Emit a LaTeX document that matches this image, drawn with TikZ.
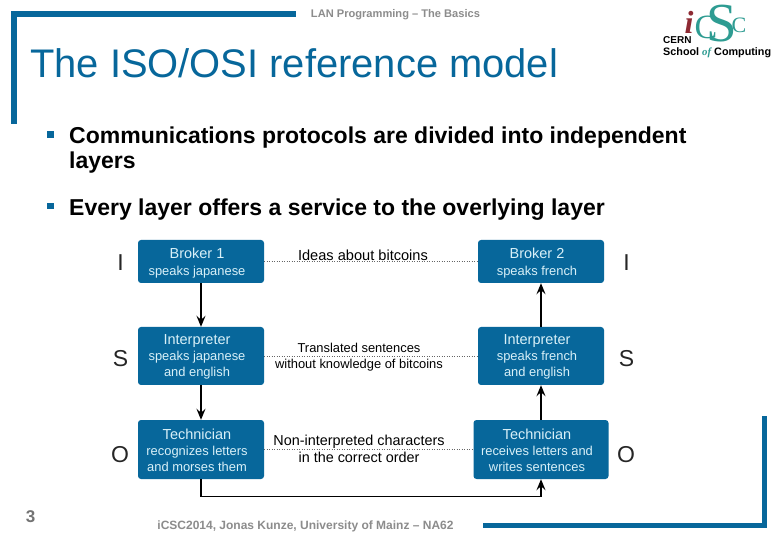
\documentclass[tikz,border=0pt]{standalone}
\usepackage{fontspec}
\setmainfont{Liberation Sans}
\newfontfamily\symfont{DejaVu Sans}
\newfontfamily\logoserif{Liberation Serif}
\usetikzlibrary{arrows.meta}
\definecolor{cernblue}{HTML}{07679B}
\definecolor{greytxt}{HTML}{8C8C8C}
\definecolor{logoteal}{HTML}{2E9C92}
\definecolor{logored}{HTML}{8E2A33}
\definecolor{boxtxt}{HTML}{D8F0F8}
\newcommand\bt[2]{\hspace*{-8pt}\raisebox{#1}[0pt][0pt]{\begin{tabular}{@{}c@{}}#2\end{tabular}}}
\newcommand\hd{\fontsize{14.5}{16}\selectfont}
\tikzset{
  frame/.style={fill=cernblue,draw=none},
  bx/.style={draw=none,fill=cernblue,rounded corners=3pt,text=boxtxt,inner sep=0pt,font=\fontsize{12.9}{16}\selectfont},
  bxb/.style={bx,font=\fontsize{12.9}{17}\selectfont},
  link/.style={draw=black!60,line width=0.5pt,dotted},
  flow/.style={draw=black,line width=1.5pt,-{Stealth[length=11pt,width=9pt,inset=4pt]}},
  lay/.style={font=\fontsize{23}{26}\selectfont,inner sep=0pt,text=black!85},
  lab/.style={align=center,inner sep=0pt,text=black},
  foot/.style={text=greytxt,font=\fontsize{12}{14}\selectfont\bfseries,inner sep=0pt},
  body/.style={anchor=base west,inner sep=0pt,font=\fontsize{23}{25}\bfseries\selectfont,text=black},
  bul/.style={fill=cernblue,draw=none,minimum size=6.5pt,inner sep=0pt}
}
\begin{document}
\begin{tikzpicture}[x=1pt,y=-1pt]
\useasboundingbox (0,0) rectangle (780,540);
\fill[white] (0,0) rectangle (780,540);
% frame
\fill[frame] (12,11) rectangle (296,17);
\fill[frame] (11,11) rectangle (17,124);
\fill[frame] (483,523) rectangle (767,528);
\fill[frame] (762,416) rectangle (767,528);
% header
\node[foot,font=\fontsize{11.1}{13}\selectfont\bfseries] (hd) at (395.5,15) {LAN Programming -- The Basics};
\node[anchor=base west,inner sep=0pt,text=cernblue,font=\fontsize{39.9}{42}\selectfont] (title) at (30,78) {The ISO/OSI reference model};
% logo
\node[anchor=center,inner sep=0pt,text=logored,font=\logoserif\itshape\bfseries\fontsize{32}{32}\selectfont] (li) at (689,22) {i};
\node[anchor=center,inner sep=0pt,text=logoteal,font=\logoserif\fontsize{34}{34}\selectfont] (lc1) at (706,27) {C};
\node[anchor=center,inner sep=0pt,text=logoteal,font=\logoserif\fontsize{55}{55}\selectfont] (ls) at (722,24) {S};
\node[anchor=center,inner sep=0pt,text=logoteal,font=\logoserif\fontsize{22}{22}\selectfont] (lc2) at (739,25) {C};
\node[anchor=base west,inner sep=0pt,font=\fontsize{10}{12}\selectfont\bfseries] (lcern) at (663,44) {CERN};
\node[anchor=base west,inner sep=0pt,font=\fontsize{10.8}{12}\selectfont\bfseries] (lschool) at (663,56) {School \textcolor{logoteal}{\logoserif\itshape of} Computing};
% bullets
\node[bul] (b1) at (50.5,134.5) {};
\node[body] (t1a) at (69,144) {Communications protocols are divided into independent};
\node[body] (t1b) at (69,169) {layers};
\node[bul] (b2) at (50.5,206) {};
\node[body] (t2) at (69,216) {Every layer offers a service to the overlying layer};
% boxes
\node[bxb,minimum width=126pt,minimum height=43pt] (br1) at (201,261.5) {\bt{-5.2pt}{\hd Broker 1\\speaks japanese}};
\node[bxb,minimum width=126pt,minimum height=43pt] (br2) at (541,261.5) {\bt{-5.2pt}{\hd Broker 2\\speaks french}};
\node[bx,minimum width=126pt,minimum height=58pt] (in1) at (201,356) {\bt{-4.2pt}{\hd Interpreter\\speaks japanese\\and english}};
\node[bx,minimum width=126pt,minimum height=58pt] (in2) at (541,356) {\bt{-4.2pt}{\hd Interpreter\\speaks french\\and english}};
\node[bx,minimum width=126pt,minimum height=59pt] (te1) at (201,449.5) {\bt{-6.2pt}{\hd Technician\\recognizes letters\\and morses them}};
\node[bx,minimum width=135pt,minimum height=59pt] (te2) at (541,449.5) {\bt{-6.2pt}{\hd Technician\\receives letters and\\writes sentences}};
% dotted links
\draw[link] (br1.east) -- (br2.west);
\draw[link] (in1.east) -- (in2.west);
\draw[link] (te1.east) -- (te2.west);
% link labels
\node[lab,font=\fontsize{14.6}{15}\selectfont] (l1) at (363,255) {Ideas about bitcoins};
\node[lab,font=\fontsize{12.9}{16}\selectfont] (l2) at (359,357) {Translated sentences\\without knowledge of bitcoins};
\node[lab,font=\fontsize{14.4}{17.5}\selectfont] (l3) at (359,449) {Non-interpreted characters\\in the correct order};
% flows
\draw[flow] (br1) -- (in1);
\draw[flow] (in1) -- (te1);
\draw[flow] (in2) -- (br2);
\draw[flow] (te2) -- (in2);
\draw[flow] (te1.south) -- ++(0,17.5) -| (te2.south);
% layer letters
\node[lay] (i1) at (120.5,262.5) {I};
\node[lay] (i2) at (626.5,262.5) {I};
\node[lay] (s1) at (120.5,358.5) {S};
\node[lay] (s2) at (626.5,358.5) {S};
\node[lay] (o1) at (120,454.5) {O};
\node[lay] (o2) at (626,454.5) {O};
% footer
\node[anchor=center,inner sep=0pt,text=black!55,font=\fontsize{17}{18}\selectfont\bfseries] (pg) at (30.5,517) {3};
\node[foot] (ft) at (305.5,526) {iCSC2014, Jonas Kunze, University of Mainz -- NA62};
\end{tikzpicture}
\end{document}
